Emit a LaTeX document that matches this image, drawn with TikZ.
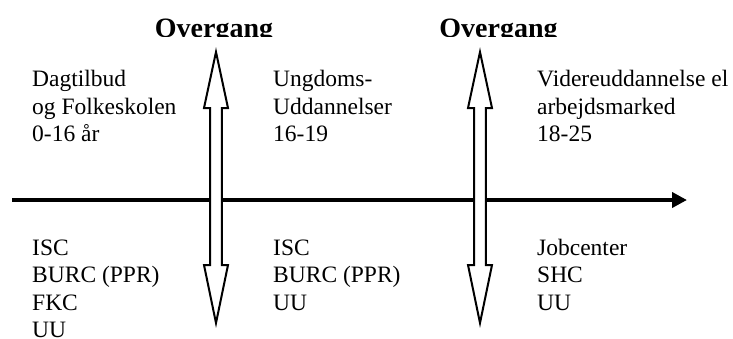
\documentclass[tikz,border=0pt]{standalone}
\usepackage{fontspec}
\setmainfont{Liberation Serif}
\usetikzlibrary{arrows.meta}
\tikzset{
  txt/.style={anchor=base west, inner sep=0pt, font=\fontsize{23.5}{27.5}\selectfont},
  head/.style={anchor=base, inner sep=0pt, font=\fontsize{28}{30}\selectfont\bfseries},
  axis/.style={line width=4pt, -{Triangle[length=15pt,width=15pt]}},
  dblarr/.pic={
    \draw[line width=2pt, fill=white, line join=miter]
      (0,52) -- (12,108) -- (5.8,108) -- (5.8,265) -- (12,265) -- (0,323)
      -- (-12,265) -- (-5.8,265) -- (-5.8,108) -- (-12,108) -- cycle;
  }
}
\begin{document}
\begin{tikzpicture}[x=1pt, y=-1pt]
\clip (0,0) rectangle (733,338);
\fill[white] (0,0) rectangle (733,338);
% timeline
\coordinate (axstart) at (12,200);
\coordinate (axend) at (687,200);
\draw[axis] (axstart) -- (axend);
% transition arrows
\pic (arrA) at (216,0) {dblarr};
\pic (arrB) at (480,0) {dblarr};
% headings (clipped at bottom like the original)
\begin{scope}
\clip (0,0) rectangle (733,36.5);
\node[head] (ovA) at (214,37) {Overgang};
\node[head] (ovB) at (498.5,37) {Overgang};
\end{scope}
% upper texts
\node[txt] (t1) at (32,86.5) {\begin{tabular}[t]{@{}l@{}}Dagtilbud\\og Folkeskolen\\0-16 år\end{tabular}};
\node[txt] (t2) at (273,86.5) {\begin{tabular}[t]{@{}l@{}}Ungdoms-\\Uddannelser\\16-19\end{tabular}};
\node[txt] (t3) at (537,86.5) {\begin{tabular}[t]{@{}l@{}}Videreuddannelse el\\arbejdsmarked\\18-25\end{tabular}};
% lower texts
\node[txt] (b1) at (32,255) {\begin{tabular}[t]{@{}l@{}}ISC\\BURC (PPR)\\FKC\\UU\end{tabular}};
\node[txt] (b2) at (273,255) {\begin{tabular}[t]{@{}l@{}}ISC\\BURC (PPR)\\UU\end{tabular}};
\node[txt] (b3) at (537,255) {\begin{tabular}[t]{@{}l@{}}Jobcenter\\SHC\\UU\end{tabular}};
\end{tikzpicture}
\end{document}
